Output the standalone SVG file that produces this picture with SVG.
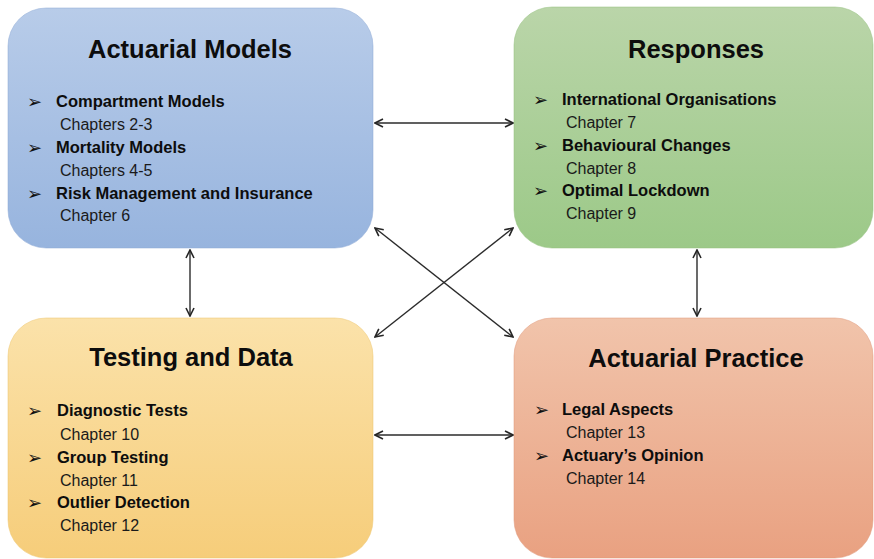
<svg xmlns="http://www.w3.org/2000/svg" width="874" height="559" viewBox="0 0 874 559">
  <defs>
    <linearGradient id="gBlue" x1="0" y1="0" x2="0" y2="1">
      <stop offset="0" stop-color="#b8cce9"/>
      <stop offset="1" stop-color="#97b4de"/>
    </linearGradient>
    <linearGradient id="gGreen" x1="0" y1="0" x2="0" y2="1">
      <stop offset="0" stop-color="#bad5a9"/>
      <stop offset="1" stop-color="#9cc988"/>
    </linearGradient>
    <linearGradient id="gYellow" x1="0" y1="0" x2="0" y2="1">
      <stop offset="0" stop-color="#fbe2aa"/>
      <stop offset="1" stop-color="#f6cd7a"/>
    </linearGradient>
    <linearGradient id="gOrange" x1="0" y1="0" x2="0" y2="1">
      <stop offset="0" stop-color="#f1c4ab"/>
      <stop offset="1" stop-color="#e9a181"/>
    </linearGradient>
    <marker id="head" viewBox="0 0 10 10" refX="9" refY="5" markerWidth="10" markerHeight="10" markerUnits="userSpaceOnUse" orient="auto-start-reverse">
      <path d="M1,1 L9,5 L1,9" fill="none" stroke="#262626" stroke-width="1.6"/>
    </marker>
  </defs>
  <style>
    .box { stroke-width: 1; stroke-opacity: 0.5; }
    .title { font-family: "Liberation Sans", Arial, sans-serif; font-weight: bold; font-size: 25.5px; fill: #0d0d0d; text-anchor: middle; }
    .item { font-family: "Liberation Sans", Arial, sans-serif; font-weight: bold; font-size: 16.5px; fill: #0d0d0d; }
    .chap { font-family: "Liberation Sans", Arial, sans-serif; font-size: 16px; fill: #1a1a1a; }
    .bul { font-family: "DejaVu Sans", sans-serif; font-size: 18px; fill: #111; }
    .link { stroke: #2b2b2b; stroke-width: 1.4; fill: none; marker-start: url(#head); marker-end: url(#head); }
  </style>
  <rect width="874" height="559" fill="#ffffff"/>

  <!-- connectors -->
  <g id="connectors">
    <line class="link" x1="375" y1="123" x2="513" y2="123"/>
    <line class="link" x1="375" y1="435" x2="513" y2="435"/>
    <line class="link" x1="190" y1="250" x2="190" y2="316"/>
    <line class="link" x1="697" y1="250" x2="697" y2="316"/>
    <line class="link" x1="375" y1="228" x2="513" y2="337"/>
    <line class="link" x1="513" y1="228" x2="375" y2="337"/>
  </g>

  <!-- Actuarial Models -->
  <g id="actuarial-models">
    <rect class="box" x="8" y="8" width="365" height="240" rx="38" fill="url(#gBlue)" stroke="#8eaad6"/>
    <text class="title" x="190" y="58">Actuarial Models</text>
    <text class="bul" x="27" y="108">➢</text>
    <text class="item" x="56" y="107">Compartment Models</text>
    <text class="chap" x="60" y="130">Chapters 2-3</text>
    <text class="bul" x="27" y="154">➢</text>
    <text class="item" x="56" y="153">Mortality Models</text>
    <text class="chap" x="60" y="176">Chapters 4-5</text>
    <text class="bul" x="27" y="200">➢</text>
    <text class="item" x="56" y="199">Risk Management and Insurance</text>
    <text class="chap" x="60" y="221">Chapter 6</text>
  </g>

  <!-- Responses -->
  <g id="responses">
    <rect class="box" x="514" y="7" width="359" height="241" rx="38" fill="url(#gGreen)" stroke="#93bf7e"/>
    <text class="title" x="696" y="58">Responses</text>
    <text class="bul" x="533" y="106">➢</text>
    <text class="item" x="562" y="105">International Organisations</text>
    <text class="chap" x="566" y="128">Chapter 7</text>
    <text class="bul" x="533" y="152">➢</text>
    <text class="item" x="562" y="151">Behavioural Changes</text>
    <text class="chap" x="566" y="174">Chapter 8</text>
    <text class="bul" x="533" y="197">➢</text>
    <text class="item" x="562" y="196">Optimal Lockdown</text>
    <text class="chap" x="566" y="219">Chapter 9</text>
  </g>

  <!-- Testing and Data -->
  <g id="testing-and-data">
    <rect class="box" x="8" y="318" width="365" height="240" rx="38" fill="url(#gYellow)" stroke="#eec56e"/>
    <text class="title" x="191" y="366">Testing and Data</text>
    <text class="bul" x="27" y="417">➢</text>
    <text class="item" x="57" y="416">Diagnostic Tests</text>
    <text class="chap" x="60" y="440">Chapter 10</text>
    <text class="bul" x="27" y="464">➢</text>
    <text class="item" x="57" y="463">Group Testing</text>
    <text class="chap" x="60" y="486">Chapter 11</text>
    <text class="bul" x="27" y="509">➢</text>
    <text class="item" x="57" y="508">Outlier Detection</text>
    <text class="chap" x="60" y="531">Chapter 12</text>
  </g>

  <!-- Actuarial Practice -->
  <g id="actuarial-practice">
    <rect class="box" x="514" y="318" width="359" height="240" rx="38" fill="url(#gOrange)" stroke="#e0977a"/>
    <text class="title" x="696" y="367">Actuarial Practice</text>
    <text class="bul" x="534" y="416">➢</text>
    <text class="item" x="562" y="415">Legal Aspects</text>
    <text class="chap" x="566" y="438">Chapter 13</text>
    <text class="bul" x="534" y="462">➢</text>
    <text class="item" x="562" y="461">Actuary’s Opinion</text>
    <text class="chap" x="566" y="484">Chapter 14</text>
  </g>
</svg>
